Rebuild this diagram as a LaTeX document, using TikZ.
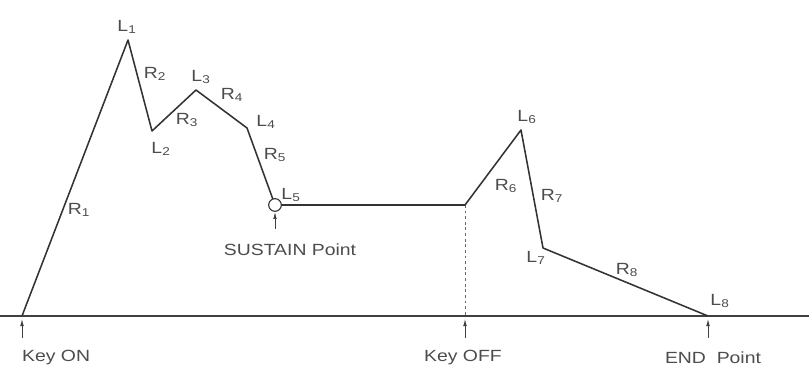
\documentclass[tikz,border=0pt]{standalone}
\usepackage{fontspec}
\setmainfont[FakeStretch=1.2]{Liberation Sans}
\usetikzlibrary{arrows.meta,calc}

\begin{document}
\begin{tikzpicture}[
x=0.025cm, y=-0.025cm,
line width=1pt,
every node/.style={font=\fontsize{11.5}{13}\selectfont, text=black!70, inner sep=1pt},
envline/.style={draw=black!80, line width=1.1pt, line join=round},
tickarrow/.style={-{Latex[length=5pt,width=2.6pt]}, draw=black!75, line width=0.6pt}
]
\useasboundingbox (0,0) rectangle (809,372);

% envelope points
\coordinate (on)   at (22,316);
\coordinate (l1)   at (128,40);
\coordinate (l2)   at (152,131);
\coordinate (l3)   at (196,90);
\coordinate (l4)   at (247,128);
\coordinate (l5)   at (275,205);
\coordinate (off)  at (465,205);
\coordinate (offb) at (465,316);
\coordinate (l6)   at (521,130);
\coordinate (l7)   at (543,248);
\coordinate (l8)   at (708,316);
\coordinate (axl)  at (0,316);
\coordinate (axr)  at (809,316);

% time axis
\draw[draw=black!75, line width=0.9pt] (axl) -- (axr);
\draw[draw=black!60, line width=0.5pt, dashed, dash pattern=on 2pt off 2pt] (off) -- (offb);

% envelope
\draw[envline] (on) -- (l1) -- (l2) -- (l3) -- (l4) -- (l5) -- (off) -- (l6) -- (l7) -- (l8);
\node[circle, draw=black!80, fill=white, line width=0.8pt, minimum size=9pt, inner sep=0pt] (sus) at (l5) {};

% levels
\node (tl1) at (127,27) {L\textsubscript{1}};
\node (tl2) at (161,149) {L\textsubscript{2}};
\node (tl3) at (201,77) {L\textsubscript{3}};
\node (tl4) at (266,122) {L\textsubscript{4}};
\node (tl5) at (291,195) {L\textsubscript{5}};
\node (tl6) at (527,117) {L\textsubscript{6}};
\node (tl7) at (536,258) {L\textsubscript{7}};
\node (tl8) at (720,301) {L\textsubscript{8}};

% rates
\node (r1) at (79,210) {R\textsubscript{1}};
\node (r2) at (155,74) {R\textsubscript{2}};
\node (r3) at (187,120) {R\textsubscript{3}};
\node (r4) at (232,95) {R\textsubscript{4}};
\node (r5) at (275,155) {R\textsubscript{5}};
\node (r6) at (506,186) {R\textsubscript{6}};
\node (r7) at (552,196) {R\textsubscript{7}};
\node (r8) at (627,270) {R\textsubscript{8}};

% markers
\node[anchor=west] (keyon) at (20,358) {Key ON};
\node (keyoff) at (463,358) {Key OFF};
\node (endpt) at (713,358) {END\ \ Point};
\node (suspt) at (290,250) {SUSTAIN Point};
\draw[tickarrow] ($(on)+(0,22)$) -- ($(on)+(0,3)$);
\draw[tickarrow] ($(offb)+(0,22)$) -- ($(offb)+(0,3)$);
\draw[tickarrow] ($(l8)+(0,22)$) -- ($(l8)+(0,3)$);
\draw[tickarrow] ($(l5)+(0,24)$) -- (sus.south);
\end{tikzpicture}
\end{document}
